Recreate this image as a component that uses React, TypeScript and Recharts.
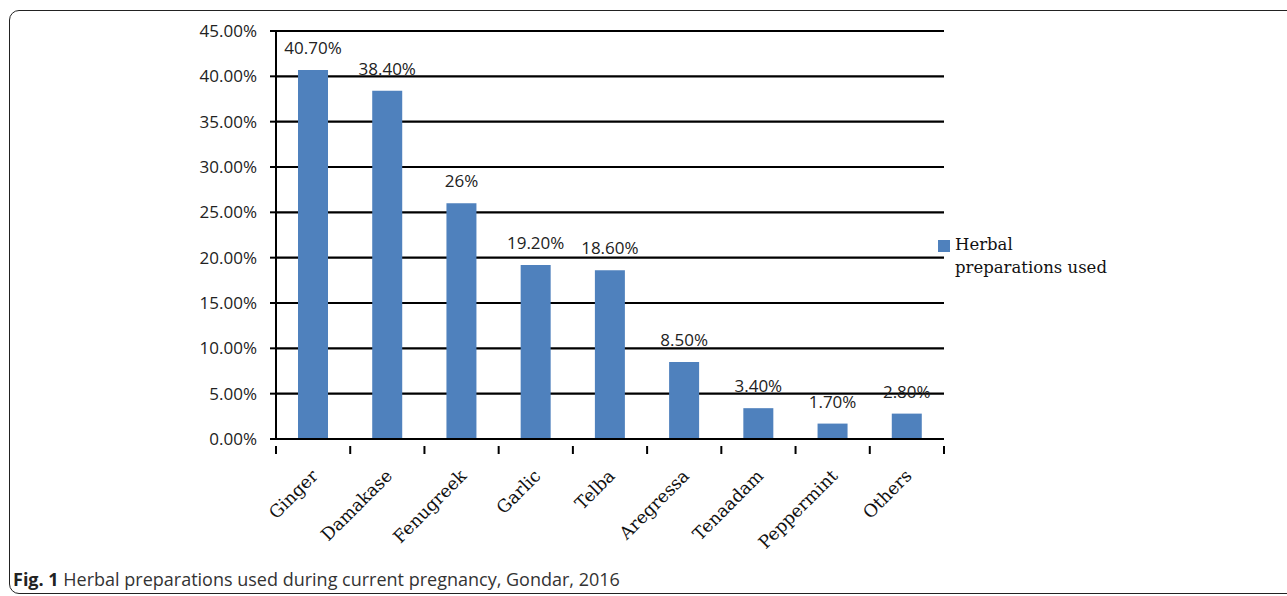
import { BarChart, Bar, XAxis, YAxis, CartesianGrid, LabelList } from 'recharts';

const herbs = ['Ginger', 'Damakase', 'Fenugreek', 'Garlic', 'Telba', 'Aregressa', 'Tenaadam', 'Peppermint', 'Others'];
const shares = [40.7, 38.4, 26, 19.2, 18.6, 8.5, 3.4, 1.7, 2.8];
const shareLabels = ['40.70%', '38.40%', '26%', '19.20%', '18.60%', '8.50%', '3.40%', '1.70%', '2.80%'];
const yTicks = [0, 5, 10, 15, 20, 25, 30, 35, 40, 45];
const seriesName = 'Herbal preparations used';

const data = herbs.map((name, i) => ({ name, value: shares[i], label: shareLabels[i] }));

const BLUE = '#4F81BD';

// category label plus the Excel-style separator ticks between categories
function CategoryTick(props: any) {
  const { x, y, payload, index } = props;
  const half = payload.offset ?? 0;
  const isLast = index === herbs.length - 1;
  return (
    <g>
      <line x1={x - half} y1={y - 1} x2={x - half} y2={y + 7} stroke="#000" strokeWidth={2} />
      {isLast && <line x1={x + half} y1={y - 1} x2={x + half} y2={y + 7} stroke="#000" strokeWidth={2} />}
      <text
        x={x + 6}
        y={y + 30}
        transform={`rotate(-45 ${x + 6} ${y + 30})`}
        textAnchor="end"
        fontFamily="'DejaVu Serif', serif"
        fontSize={17.5}
        fill="#111"
      >
        {payload.value}
      </text>
    </g>
  );
}

export default function App() {
  return (
    <div style={{ position: 'absolute', left: 0, top: 0, width: 1287, height: 596, overflow: 'hidden', background: '#fff' }}>
      <div
        style={{
          position: 'absolute',
          left: 9,
          top: 10,
          width: 1320,
          height: 584,
          border: '1.5px solid #222',
          borderRadius: 10,
          boxSizing: 'border-box',
        }}
      />
      <div style={{ position: 'absolute', left: 0, top: 0 }}>
        <BarChart width={1287} height={596} data={data} margin={{ top: 31, right: 343, left: 206, bottom: 57 }}>
          <CartesianGrid vertical={false} stroke="#000" strokeWidth={2.2} />
          <XAxis
            dataKey="name"
            interval={0}
            height={100}
            axisLine={{ stroke: '#000', strokeWidth: 2 }}
            tickLine={false}
            tick={<CategoryTick />}
          />
          <YAxis
            width={70}
            domain={[0, 45]}
            ticks={yTicks}
            interval={0}
            tickFormatter={(v: number) => `${v.toFixed(2)}%`}
            axisLine={{ stroke: '#000', strokeWidth: 2 }}
            tickLine={{ stroke: '#000', strokeWidth: 2 }}
            tickSize={6}
            tickMargin={13}
            tick={{ fill: '#222', fontSize: 17, fontFamily: "'Open Sans', sans-serif" }}
          />
          <Bar dataKey="value" name={seriesName} fill={BLUE} barSize={30} isAnimationActive={false}>
            <LabelList
              dataKey="label"
              position="top"
              offset={16}
              fill="#222"
              fontSize={17}
              fontFamily="'Open Sans', sans-serif"
            />
          </Bar>
        </BarChart>
      </div>
      <div
        style={{
          position: 'absolute',
          left: 938,
          top: 233,
          display: 'flex',
          alignItems: 'flex-start',
          fontFamily: "'DejaVu Serif', serif",
          fontSize: 16.5,
          color: '#111',
          lineHeight: '23px',
        }}
      >
        <span style={{ display: 'inline-block', width: 12, height: 12, background: BLUE, marginTop: 7, marginRight: 5 }} />
        <span>
          Herbal
          <br />
          {seriesName.replace('Herbal ', '')}
        </span>
      </div>
      <div
        style={{
          position: 'absolute',
          left: 13,
          top: 567,
          fontFamily: "'Open Sans', sans-serif",
          fontSize: 18,
          color: '#333',
          whiteSpace: 'nowrap',
        }}
      >
        <b style={{ color: '#222' }}>Fig. 1</b> Herbal preparations used during current pregnancy, Gondar, 2016
      </div>
    </div>
  );
}
